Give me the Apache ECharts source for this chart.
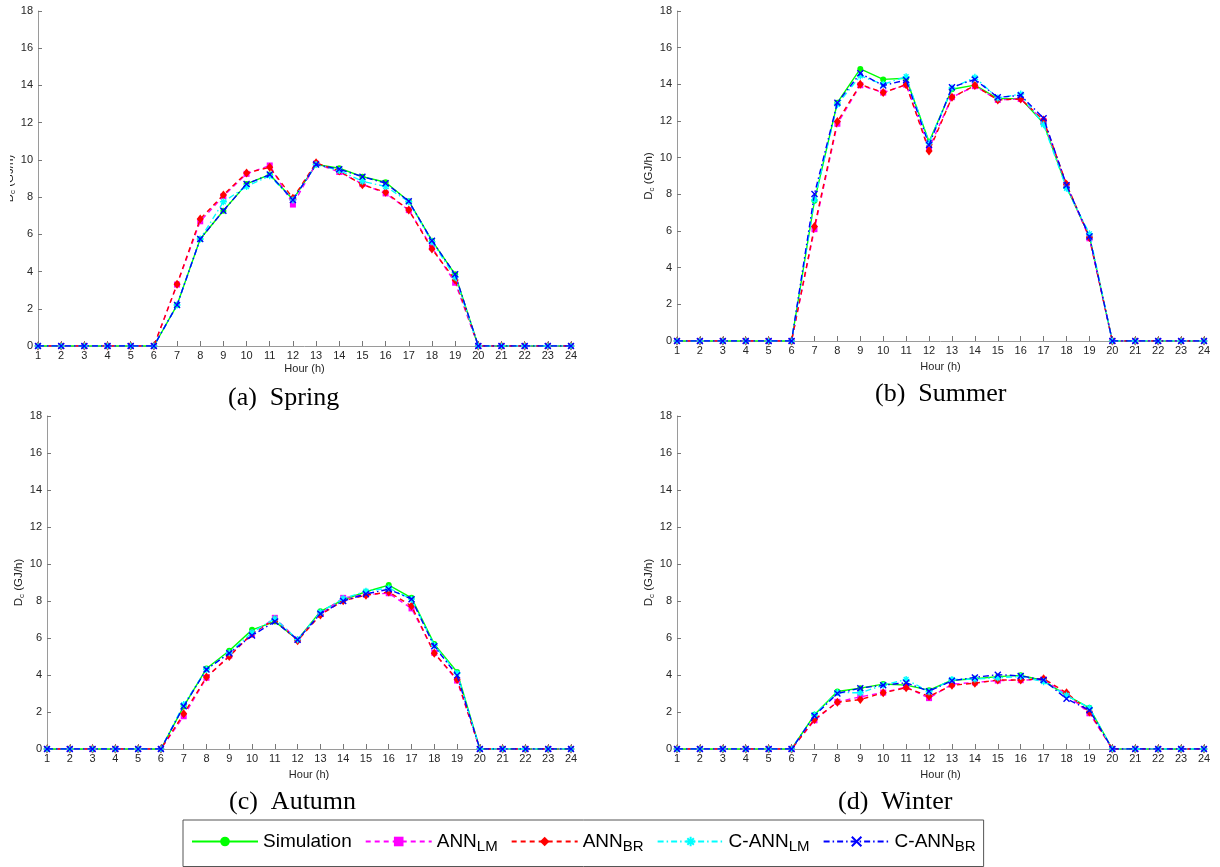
<!DOCTYPE html>
<html>
<head>
<meta charset="utf-8">
<script src="https://cdn.jsdelivr.net/npm/echarts@6/dist/echarts.min.js"></script>
<style>
html,body{margin:0;padding:0;background:#fff;}
#chart{width:1220px;height:867px;}
</style>
</head>
<body>
<div id="chart"></div>
<script>
// ---- DATA ----
const hours = ['1','2','3','4','5','6','7','8','9','10','11','12','13','14','15','16','17','18','19','20','21','22','23','24'];
const yTicks = [0,2,4,6,8,10,12,14,16,18];
const seriesNames = ['Simulation','ANN_LM','ANN_BR','C-ANN_LM','C-ANN_BR'];
const captions = ['(a)  Spring','(b)  Summer','(c)  Autumn','(d)  Winter'];

const springSim    = [0,0,0,0,0,0, 2.2,5.75,7.27,8.71,9.21,7.87,9.75,9.55,9.1,8.8,7.78,5.66,3.85, 0,0,0,0,0];
const springAnnLM  = [0,0,0,0,0,0, 3.3,6.7,8.05,9.25,9.7,7.6,9.8,9.35,8.7,8.2,7.3,5.3,3.4, 0,0,0,0,0];
const springAnnBR  = [0,0,0,0,0,0, 3.32,6.82,8.12,9.3,9.6,7.94,9.84,9.4,8.66,8.26,7.31,5.21,3.55, 0,0,0,0,0];
const springCAnnLM = [0,0,0,0,0,0, 2.2,5.75,7.75,8.57,9.15,7.85,9.75,9.43,8.85,8.57,7.75,5.6,3.7, 0,0,0,0,0];
const springCAnnBR = [0,0,0,0,0,0, 2.2,5.75,7.27,8.71,9.21,7.85,9.75,9.5,9.1,8.75,7.78,5.66,3.85, 0,0,0,0,0];

const summerSim    = [0,0,0,0,0,0, 7.65,13.0,14.84,14.27,14.33,10.87,13.73,13.96,13.22,13.22,11.88,8.4,5.7, 0,0,0,0,0];
const summerAnnLM  = [0,0,0,0,0,0, 6.1,11.85,13.95,13.55,13.98,10.5,13.3,13.9,13.15,13.2,12.0,8.5,5.6, 0,0,0,0,0];
const summerAnnBR  = [0,0,0,0,0,0, 6.24,11.97,14.0,13.55,13.98,10.36,13.29,13.93,13.15,13.2,12.05,8.55,5.65, 0,0,0,0,0];
const summerCAnnLM = [0,0,0,0,0,0, 7.7,12.9,14.46,14.0,14.42,10.8,13.8,14.38,13.25,13.47,11.8,8.33,5.85, 0,0,0,0,0];
const summerCAnnBR = [0,0,0,0,0,0, 8.02,13.0,14.6,13.93,14.24,10.69,13.84,14.27,13.29,13.4,12.15,8.5,5.7, 0,0,0,0,0];

const autumnSim    = [0,0,0,0,0,0, 2.3,4.35,5.31,6.44,6.89,5.91,7.44,8.06,8.5,8.86,8.17,5.67,4.16, 0,0,0,0,0];
const autumnAnnLM  = [0,0,0,0,0,0, 1.77,3.85,5.05,6.2,7.09,5.9,7.3,8.17,8.35,8.42,7.6,5.2,3.7, 0,0,0,0,0];
const autumnAnnBR  = [0,0,0,0,0,0, 1.9,3.89,5.0,6.25,7.0,5.85,7.25,8.02,8.31,8.49,7.73,5.18,3.76, 0,0,0,0,0];
const autumnCAnnLM = [0,0,0,0,0,0, 2.4,4.3,5.2,6.3,7.05,5.91,7.4,8.13,8.53,8.7,8.1,5.6,4.1, 0,0,0,0,0];
const autumnCAnnBR = [0,0,0,0,0,0, 2.31,4.3,5.18,6.13,6.89,5.91,7.31,8.0,8.38,8.64,8.1,5.55,3.98, 0,0,0,0,0];

const winterSim    = [0,0,0,0,0,0, 1.85,3.11,3.29,3.51,3.45,3.18,3.72,3.8,3.91,3.98,3.7,2.9,2.22, 0,0,0,0,0];
const winterAnnLM  = [0,0,0,0,0,0, 1.55,2.55,2.82,3.05,3.35,2.75,3.5,3.6,3.7,3.72,3.75,2.95,1.93, 0,0,0,0,0];
const winterAnnBR  = [0,0,0,0,0,0, 1.6,2.53,2.67,3.04,3.31,2.85,3.44,3.56,3.73,3.73,3.8,3.04,2.0, 0,0,0,0,0];
const winterCAnnLM = [0,0,0,0,0,0, 1.85,3.05,3.04,3.45,3.76,3.1,3.76,3.78,3.85,3.92,3.64,2.9,2.22, 0,0,0,0,0];
const winterCAnnBR = [0,0,0,0,0,0, 1.8,3.0,3.29,3.45,3.58,3.12,3.69,3.87,4.02,3.95,3.73,2.71,2.1, 0,0,0,0,0];

const panels = [
  [springSim, springAnnLM, springAnnBR, springCAnnLM, springCAnnBR],
  [summerSim, summerAnnLM, summerAnnBR, summerCAnnLM, summerCAnnBR],
  [autumnSim, autumnAnnLM, autumnAnnBR, autumnCAnnLM, autumnCAnnBR],
  [winterSim, winterAnnLM, winterAnnBR, winterCAnnLM, winterCAnnBR]
];

// ---- STYLE ----
const grids = [
  {left: 38, top: 11, width: 533, height: 335, outerBoundsMode: 'none', containLabel: false},
  {left: 677, top: 11, width: 527, height: 330, outerBoundsMode: 'none', containLabel: false},
  {left: 47, top: 416, width: 524, height: 333, outerBoundsMode: 'none', containLabel: false},
  {left: 677, top: 416, width: 527, height: 333, outerBoundsMode: 'none', containLabel: false}
];
const hourGap = [17, 20, 20, 20];
const captionPos = [[228, 400], [875, 396], [229, 804], [838, 804]];

const ASTER = 'path://M5,0 L5,10 M0,5 L10,5 M1.6,1.6 L8.4,8.4 M8.4,1.6 L1.6,8.4';
const XMARK = 'path://M0,0 L10,10 M10,0 L0,10';
const styles = [
  {color: '#00ff00', type: 'solid', symbol: 'circle', size: 6, stroke: false},
  {color: '#ff00ff', type: [5, 4], symbol: 'rect', size: 6, stroke: false},
  {color: '#ff0000', type: [5, 4], symbol: 'diamond', size: [7, 9], stroke: false},
  {color: '#00ffff', type: [6, 3, 1.5, 3], symbol: ASTER, size: 7, stroke: true},
  {color: '#0000ff', type: [6, 3, 1.5, 3], symbol: XMARK, size: 6, stroke: true}
];

const FONT = 'Liberation Sans';
const tickColor = '#262626';
const axisColor = '#9a9a9a';

const xAxes = [], yAxes = [], series = [], graphics = [];
grids.forEach((g, i) => {
  xAxes.push({
    gridIndex: i, type: 'category', data: hours, boundaryGap: false,
    name: 'Hour (h)', nameLocation: 'middle', nameGap: hourGap[i],
    nameTextStyle: {fontFamily: FONT, fontSize: 11, color: tickColor},
    axisLine: {lineStyle: {color: axisColor, width: 1}},
    axisTick: {inside: true, length: 5, alignWithLabel: true, lineStyle: {color: '#777'}},
    axisLabel: {fontFamily: FONT, fontSize: 11, color: tickColor, margin: 4, interval: 0},
    splitLine: {show: false}
  });
  yAxes.push({
    gridIndex: i, type: 'value', min: 0, max: 18, interval: 2,
    name: '{a|D}{s|c}{a| (GJ/h)}', nameLocation: 'middle', nameGap: 21, nameRotate: 90,
    nameTextStyle: {fontFamily: FONT, fontSize: 11.5, color: tickColor,
      rich: {a: {fontFamily: FONT, fontSize: 11.5, color: tickColor},
             s: {fontFamily: FONT, fontSize: 8, color: tickColor, padding: [6, 0, 0, 0]}}},
    axisLine: {show: true, lineStyle: {color: axisColor, width: 1}},
    axisTick: {show: true, inside: true, length: 4, lineStyle: {color: '#777'}},
    axisLabel: {fontFamily: FONT, fontSize: 11, color: tickColor, margin: 5},
    splitLine: {show: false}
  });
  panels[i].forEach((data, k) => {
    const st = styles[k];
    series.push({
      name: seriesNames[k], type: 'line', xAxisIndex: i, yAxisIndex: i,
      data: data, symbol: st.symbol, symbolSize: st.size, showSymbol: true,
      z: 2 + k, animation: false,
      lineStyle: {color: st.color, width: 1.4, type: st.type},
      itemStyle: st.stroke
        ? {color: st.color, borderColor: st.color, borderWidth: 1.4}
        : {color: st.color, borderWidth: 0}
    });
  });
  graphics.push({
    type: 'text', left: captionPos[i][0], top: captionPos[i][1] - 15,
    style: {text: captions[i], font: '26px "Liberation Serif"', fill: '#000'}
  });
});
// the spring y-axis title is cut at the figure edge in the reference
graphics.push({type: 'rect', left: 0, top: 100, shape: {width: 10, height: 160}, style: {fill: '#fff'}, z: 100});

const chart = echarts.init(document.getElementById('chart'), null, {renderer: 'canvas'});
chart.setOption({
  backgroundColor: '#fff',
  animation: false,
  grid: grids,
  xAxis: xAxes,
  yAxis: yAxes,
  series: series,
  graphic: graphics,
  legend: {
    data: seriesNames,
    left: 183, top: 820,
    padding: [12, 8, 12, 8],
    itemGap: 13,
    itemWidth: 66, itemHeight: 12,
    borderColor: '#555', borderWidth: 1,
    formatter: function (name) {
      const p = name.split('_');
      return p.length > 1 ? '{b|' + p[0] + '}{s|' + p[1] + '}' : '{b|' + name + '}';
    },
    textStyle: {
      fontFamily: FONT, fontSize: 19, color: '#000',
      rich: {
        b: {fontFamily: FONT, fontSize: 19, color: '#000'},
        s: {fontFamily: FONT, fontSize: 15, color: '#000', padding: [11, 0, 0, 0]}
      }
    }
  }
});
</script>
</body>
</html>
